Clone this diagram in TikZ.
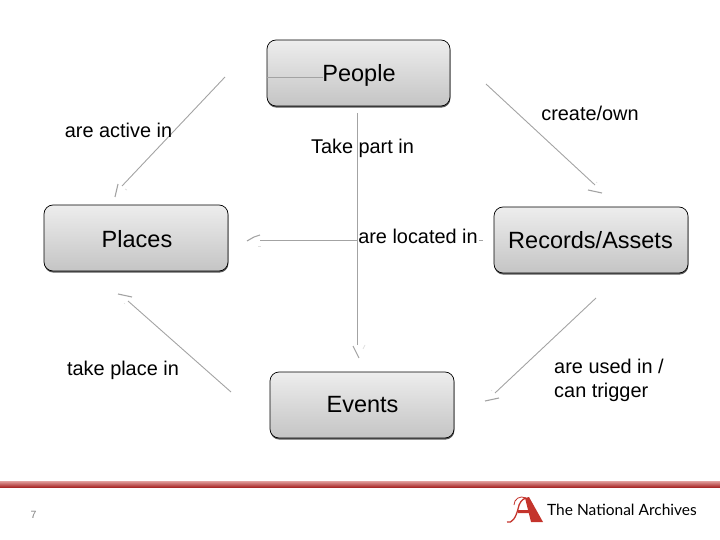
\documentclass[tikz,border=0pt]{standalone}
\usepackage{fontspec}
\setmainfont{Liberation Sans}
\newfontfamily\logofont{Lato}
\usetikzlibrary{shadows}
\definecolor{linegray}{gray}{0.64}
\definecolor{archred}{RGB}{196,52,44}
\definecolor{barpink}{RGB}{226,160,158}
\definecolor{barmid}{RGB}{205,90,88}
\definecolor{bardark}{RGB}{170,42,42}
\tikzset{
  entity/.style={draw=black,line width=0.7pt,rounded corners=9pt,top color=gray!14,bottom color=gray!46,
    minimum height=66pt,inner sep=0pt,
    drop shadow={shadow xshift=0.4pt,shadow yshift=-1.6pt,fill=black!65,opacity=1}},
  entitytext/.style={font=\fontsize{23.5}{26}\selectfont},
  relation/.style={font=\fontsize{19.9}{24}\selectfont,inner sep=0pt},
  link/.style={draw=linegray,line width=0.9pt},
  barb/.style={draw=linegray,line width=1.1pt},
  faint/.style={draw=gray!25,line width=0.7pt}
}
\begin{document}
\begin{tikzpicture}[x=1pt,y=-1pt]
\useasboundingbox (0,0) rectangle (720,540);
% Boxes
\node[entity,minimum width=183pt] (people) at (358.5,73) {};
\node[entity,minimum width=184pt] (places) at (136,238) {};
\node[entity,minimum width=194pt] (records) at (591,240) {};
\node[entity,minimum width=184pt] (events) at (362,405) {};

% Free ends of the broken connectors
\coordinate (peopleOut) at (225,77);
\coordinate (placesIn) at (122,186);
\coordinate (ownOut) at (486,84);
\coordinate (ownIn) at (595,185);
\coordinate (locOut) at (483,240.5);
\coordinate (locIn) at (260,240.5);
\coordinate (partOut) at (357.5,113);
\coordinate (partIn) at (357.5,345);
\coordinate (takeOut) at (231,392);
\coordinate (takeIn) at (128,301);
\coordinate (usedOut) at (596,298);
\coordinate (usedIn) at (495,393);

% Connectors
\draw[link] (peopleOut) -- (placesIn);
\draw[link] (people.west |- peopleOut) -- (323,77);
\draw[link] (ownOut) -- (ownIn);
\draw[link] (locOut) -- (locIn);
\draw[link] (takeOut) -- (takeIn);
\draw[link] (usedOut) -- (usedIn);

% What is left of the heads
\draw[barb] (115,197) -- (118,184);
\draw[faint] (125,189) -- (127,190);
\draw[barb] (588,190) -- (602,193);
\draw[faint] (596,182) -- (597,183);
\draw[barb] (247,241) -- (254,237) -- (260,235);
\draw[faint] (258,246) -- (261,246);
\draw[barb] (118,294) -- (132,297);
\draw[faint] (124,303) -- (125,304);
\draw[barb] (353,346) -- (359,358);
\draw[faint] (365,345) -- (363,349);
\draw[barb] (485,401) -- (499,398);
\draw[faint] (491,390) -- (492,391);

% Labels
\node[entitytext] (peopleText) at (359,75) {People};
\node[entitytext] (placesText) at (137,239) {Places};
\node[entitytext] (recordsText) at (590.5,240) {Records/Assets};
\node[entitytext] (eventsText) at (362.5,405) {Events};
\node[relation] (active) at (118.5,130) {are active in};
\node[relation] (own) at (590,113) {create/own};
\node[relation] (part) at (362.5,148) {Take part in};
\node[relation,fill=white,inner sep=1pt] (located) at (418,236) {are located in};
\node[relation] (take) at (123,370) {take place in};
\node[relation,align=left] (used) at (609,380) {are used in /\\can trigger};

\draw[link,line width=1.1pt] (partOut) -- (partIn);

% Footer
\shade[top color=barpink,middle color=barmid,bottom color=bardark] (0,481) rectangle (720,487);
\node[font=\fontsize{10.5}{12}\selectfont,text=gray] (page) at (33.5,515) {7};
% Logo
\fill[archred] (525,498) -- (529,497) -- (543,522) -- (531,522) -- cycle;
\fill[archred] (518,510) -- (534,510) -- (535,513) -- (518,513) -- cycle;
\draw[archred,line width=1.3pt] (526,498) .. controls (522,499) and (519,503) .. (518,509) .. controls (516,517) and (512,524) .. (507,522);
\draw[archred,line width=0.8pt] (526,498) .. controls (520,495) and (514,499) .. (514,505);
\node[font=\logofont\fontsize{15.5}{18}\selectfont,anchor=west,inner sep=0pt] (archives) at (547,510) {The National Archives};
\end{tikzpicture}
\end{document}
